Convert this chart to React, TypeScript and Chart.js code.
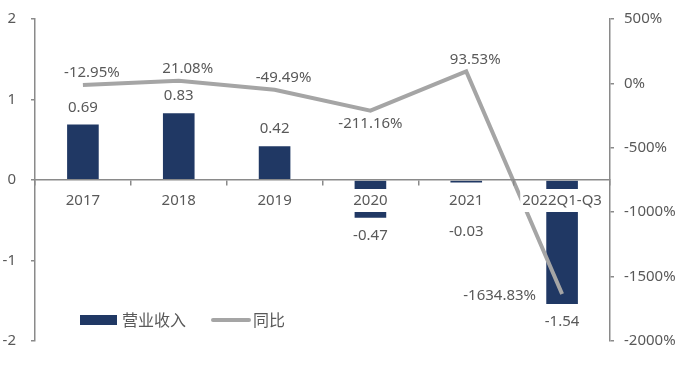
import React, { useEffect, useRef } from 'react';
import { Chart, registerables } from 'chart.js';

Chart.register(...registerables);

const categories = ['2017', '2018', '2019', '2020', '2021', '2022Q1-Q3'];
const revenue = [0.69, 0.83, 0.42, -0.47, -0.03, -1.54];
const yoy = [-12.95, 21.08, -49.49, -211.16, 93.53, -1634.83];
const revenueLabels = ['0.69', '0.83', '0.42', '-0.47', '-0.03', '-1.54'];
const yoyLabels = ['-12.95%', '21.08%', '-49.49%', '-211.16%', '93.53%', '-1634.83%'];
const yoyLabelSide = ['top', 'top', 'top', 'bottom', 'top', 'left'];
const seriesNames = ['营业收入', '同比'];

const BAR = '#203864';
const LINE = '#A5A5A5';
const TEXT = '#595959';
const AXIS = '#8A8A8A';
const FONT = '"Noto Sans", "Noto Sans CJK SC", sans-serif';
const CJK = '"Noto Sans CJK SC", "Noto Sans", sans-serif';

const labelPlugin = {
  id: 'labels',
  afterDraw(chart: any) {
    const ctx = chart.ctx;
    const x = chart.scales.x;
    const y = chart.scales.y;
    const y1 = chart.scales.y1;
    const zero = y.getPixelForValue(0);
    ctx.save();
    ctx.fillStyle = TEXT;
    ctx.font = `15px ${FONT}`;
    ctx.textAlign = 'center';
    ctx.textBaseline = 'middle';
    revenue.forEach((v, i) => {
      const px = x.getPixelForValue(i);
      const end = y.getPixelForValue(v);
      let py;
      if (v >= 0) py = end - 17;
      else py = Math.max(end + 18, zero + 52);
      ctx.fillText(revenueLabels[i], px, py);
    });
    yoy.forEach((v, i) => {
      const px = x.getPixelForValue(i);
      const py = y1.getPixelForValue(v);
      const side = yoyLabelSide[i];
      if (side === 'top') {
        ctx.textAlign = 'center';
        ctx.fillText(yoyLabels[i], px + 9, py - 12);
      } else if (side === 'bottom') {
        ctx.textAlign = 'center';
        ctx.fillText(yoyLabels[i], px, py + 13);
      } else {
        ctx.textAlign = 'right';
        ctx.fillText(yoyLabels[i], px - 26, py + 2);
      }
    });
    // legend
    const area = chart.chartArea;
    const lx = area.left + 45;
    const ly = area.bottom - 21;
    ctx.fillStyle = BAR;
    ctx.fillRect(lx, ly - 5, 37, 10);
    ctx.font = `16px ${CJK}`;
    ctx.fillStyle = TEXT;
    ctx.textAlign = 'left';
    ctx.fillText(seriesNames[0], lx + 42, ly);
    ctx.strokeStyle = LINE;
    ctx.lineWidth = 4;
    ctx.lineCap = 'round';
    ctx.beginPath();
    ctx.moveTo(lx + 133, ly);
    ctx.lineTo(lx + 169, ly);
    ctx.stroke();
    ctx.fillText(seriesNames[1], lx + 173, ly);
    ctx.restore();
  },
};

const noPad = (s: any) => {
  s.paddingTop = 0;
  s.paddingBottom = 0;
};

export default function App() {
  const ref = useRef<HTMLCanvasElement | null>(null);
  useEffect(() => {
    document.body.style.margin = '0';
    const chart = new Chart(ref.current as HTMLCanvasElement, {
      type: 'bar',
      data: {
        labels: categories,
        datasets: [
          {
            type: 'line',
            label: seriesNames[1],
            data: yoy,
            yAxisID: 'y1',
            borderColor: LINE,
            backgroundColor: LINE,
            borderWidth: 4,
            pointRadius: 0,
            tension: 0,
            order: 0,
          } as any,
          {
            type: 'bar',
            label: seriesNames[0],
            data: revenue,
            yAxisID: 'y',
            backgroundColor: BAR,
            barPercentage: 0.33,
            categoryPercentage: 1,
            order: 1,
          },
        ],
      },
      options: {
        animation: false,
        responsive: false,
        layout: { padding: { top: 19, bottom: 51, left: 0, right: 0 } },
        plugins: { legend: { display: false }, tooltip: { enabled: false } },
        scales: {
          x: {
            position: { y: 0 } as any,
            z: 1,
            grid: { drawOnChartArea: false, drawTicks: true, tickLength: 5, color: AXIS, lineWidth: 1.5, offset: true, z: 1 } as any,
            border: { display: true, color: AXIS, width: 1.5, z: 1 } as any,
            ticks: {
              z: 1,
              color: TEXT,
              font: { family: FONT, size: 15 },
              padding: 7,
              maxRotation: 0,
              autoSkip: false,
              showLabelBackdrop: true,
              backdropColor: '#ffffff',
              backdropPadding: { top: 3, bottom: 2, left: 2, right: 2 },
            } as any,
            afterFit: (s: any) => { s.paddingLeft = 0; s.paddingRight = 0; s.paddingTop = 0; s.paddingBottom = 0; },
          },
          y: {
            position: 'left',
            min: -2,
            max: 2,
            grid: { drawOnChartArea: false, drawTicks: true, tickLength: 4, color: AXIS, lineWidth: 1.5 },
            border: { display: true, color: AXIS, width: 1.5 },
            ticks: { stepSize: 1, color: TEXT, font: { family: FONT, size: 15 }, padding: 15 },
            afterFit: (s: any) => { s.width = 35; noPad(s); },
          },
          y1: {
            position: 'right',
            min: -2000,
            max: 500,
            grid: { drawOnChartArea: false, drawTicks: true, tickLength: 4, color: AXIS, lineWidth: 1.5 },
            border: { display: true, color: AXIS, width: 1.5 },
            ticks: {
              stepSize: 500,
              color: TEXT,
              font: { family: FONT, size: 15 },
              padding: 10,
              callback: (v: any) => `${v}%`,
            },
            afterFit: (s: any) => { s.width = 68; noPad(s); },
          },
        },
      },
      plugins: [labelPlugin],
    });
    return () => chart.destroy();
  }, []);
  return (
    <div style={{ width: 678, height: 392, background: '#fff' }}>
      <canvas ref={ref} width={678} height={392} />
    </div>
  );
}
